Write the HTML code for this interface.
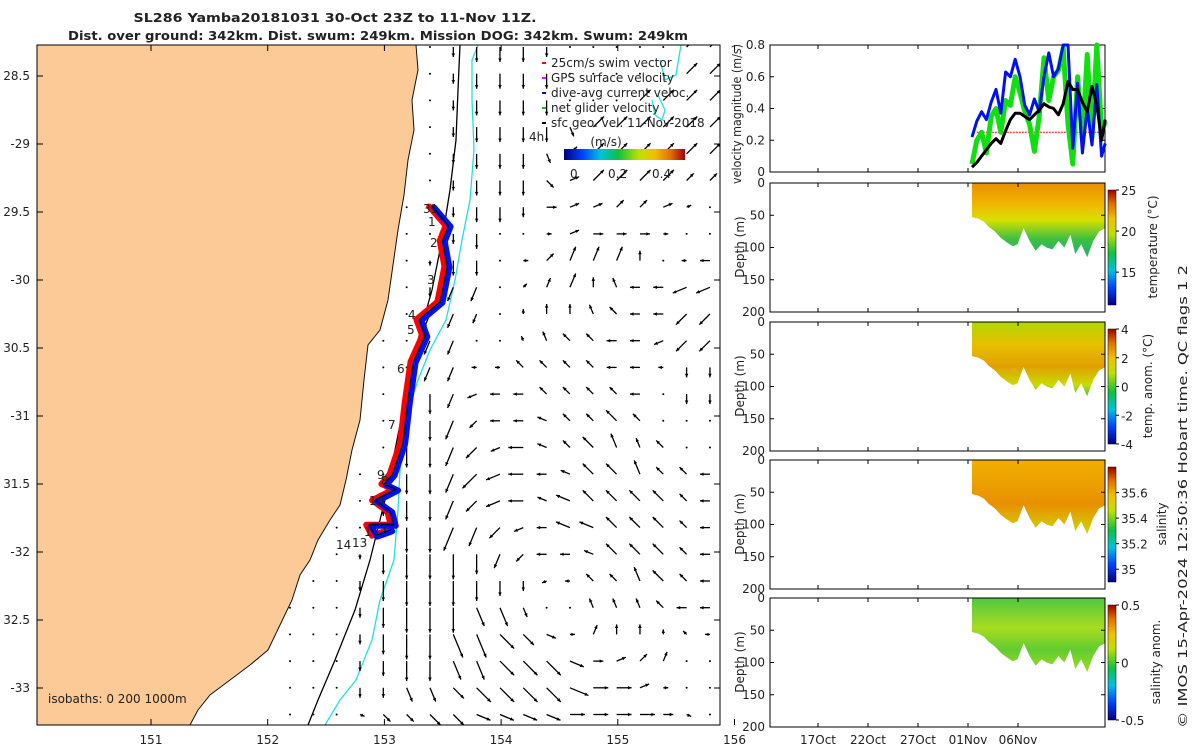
<!DOCTYPE html>
<html><head><meta charset="utf-8">
<style>
body{margin:0;background:#fff;width:1200px;height:750px;overflow:hidden;font-family:"Liberation Sans","DejaVu Sans",sans-serif}
svg text{font-family:"DejaVu Sans","Liberation Sans",sans-serif;font-size:12px;fill:#222}
</style></head><body>
<svg id="s" width="1200" height="750" viewBox="0 0 1200 750">
<defs>
<linearGradient id="jet" x1="0" y1="1" x2="0" y2="0">
<stop offset="0" stop-color="#000080"/><stop offset="0.15" stop-color="#0040ff"/><stop offset="0.3" stop-color="#00c0e0"/><stop offset="0.45" stop-color="#10c040"/><stop offset="0.62" stop-color="#c0e000"/><stop offset="0.75" stop-color="#f0c000"/><stop offset="0.88" stop-color="#e07000"/><stop offset="1" stop-color="#a00000"/></linearGradient>
<linearGradient id="jeth" x1="0" y1="0" x2="1" y2="0">
<stop offset="0" stop-color="#000080"/><stop offset="0.15" stop-color="#0040ff"/><stop offset="0.3" stop-color="#00c0e0"/><stop offset="0.45" stop-color="#10c040"/><stop offset="0.62" stop-color="#c0e000"/><stop offset="0.75" stop-color="#f0c000"/><stop offset="0.88" stop-color="#e07000"/><stop offset="1" stop-color="#a00000"/></linearGradient>
<linearGradient id="gT" x1="0" y1="0" x2="0" y2="1"><stop offset="0" stop-color="#e89000"/><stop offset="0.3" stop-color="#f0b800"/><stop offset="0.5" stop-color="#d8e000"/><stop offset="0.75" stop-color="#40c040"/><stop offset="1" stop-color="#20b070"/></linearGradient>
<linearGradient id="gA" x1="0" y1="0" x2="0" y2="1"><stop offset="0" stop-color="#b0d800"/><stop offset="0.3" stop-color="#e8c000"/><stop offset="0.6" stop-color="#e0a000"/><stop offset="0.85" stop-color="#c8dc00"/><stop offset="1" stop-color="#50c040"/></linearGradient>
<linearGradient id="gS" x1="0" y1="0" x2="0" y2="1"><stop offset="0" stop-color="#f0b000"/><stop offset="0.6" stop-color="#e89000"/><stop offset="1" stop-color="#d0d800"/></linearGradient>
<linearGradient id="gSA" x1="0" y1="0" x2="0" y2="1"><stop offset="0" stop-color="#50c840"/><stop offset="0.4" stop-color="#a8dc20"/><stop offset="0.7" stop-color="#60cc30"/><stop offset="1" stop-color="#a0dc20"/></linearGradient>
<clipPath id="mapclip"><rect x="37" y="45" width="683" height="680"/></clipPath>
</defs>
<g id="map" clip-path="url(#mapclip)">
<rect x="37" y="45" width="683" height="680" fill="#fff"/>
<path fill="#fbca97" stroke="#111" stroke-width="1" d="M37,45 L416,45 L418,70 L412,100 L414,130 L408,160 L404,195 L398,230 L393,265 L388,300 L380,330 L368,345 L364,380 L360,420 L352,450 L346,480 L340,505 L330,520 L318,540 L310,560 L300,575 L292,600 L280,625 L268,650 L250,665 L230,680 L210,695 L198,710 L190,725 L37,725 Z"/>
<path fill="none" stroke="#000" stroke-width="1.3" d="M460,45 L458,90 L456,140 L450,190 L442,240 L432,290 L418,340 L405,400 L395,450 L385,500 L370,560 L355,610 L335,660 L318,700 L308,725"/>
<path fill="none" stroke="#20e0e0" stroke-width="1.3" d="M478,45 L472,60 L472,100 L474,150 L470,200 L462,240 L455,280 L446,320 L430,350 L418,380 L408,410 L402,440 L400,470 L398,510 L394,560 L380,600 L372,640 L356,680 L340,700 L325,725"/>
<path fill="none" stroke="#20e0e0" stroke-width="1.3" d="M681,45 L676,75 L665,80 L660,60 M658,95 L665,110 L662,120 L655,115 L652,100"/>
<g id="arrows"></g>
<g fill="none" stroke-linejoin="round" stroke-linecap="round">
<path id="trk1" stroke="#f00" stroke-width="6"/>
<path id="trk2" stroke="#0010ff" stroke-width="6"/>
<path id="trk3" stroke="#000" stroke-width="1.2"/>
</g>
<g font-size="12">
<text x="423" y="213">31</text><text x="428" y="226">1</text><text x="430" y="247">2</text><text x="427" y="284">3</text><text x="408" y="319">4</text><text x="407" y="334">5</text><text x="397" y="373">6</text><text x="388" y="429">7</text><text x="377" y="479">9</text><text x="381" y="485">8</text><text x="369" y="505">10</text><text x="364" y="536">112</text><text x="352" y="547">13</text><text x="336" y="549">14</text>
</g>
<text x="48" y="703">isobaths: 0   200  1000m</text>
<g>
<line x1="542" y1="63" x2="546" y2="63" stroke="#f00" stroke-width="2"/><text x="551" y="67">25cm/s swim vector</text>
<line x1="542" y1="78" x2="546" y2="78" stroke="#f0f" stroke-width="2"/><text x="551" y="82">GPS surface velocity</text>
<line x1="542" y1="93" x2="546" y2="93" stroke="#00f" stroke-width="2"/><text x="551" y="97">dive-avg current veloc.</text>
<line x1="542" y1="108" x2="546" y2="108" stroke="#0c0" stroke-width="2"/><text x="551" y="112">net glider velocity</text>
<line x1="542" y1="123" x2="546" y2="123" stroke="#000" stroke-width="2"/><text x="551" y="127">sfc geo. vel. 11-Nov-2018</text>
</g>
<text x="529" y="141">4h</text>
<text x="606" y="146" text-anchor="middle" font-size="13">(m/s)</text>
<rect x="564" y="149" width="121" height="11" fill="url(#jeth)"/>
<text x="570" y="178">0</text><text x="608" y="178">0.2</text><text x="652" y="178">0.4</text>
</g>
<rect x="37" y="45" width="683" height="680" fill="none" stroke="#000"/>
<g id="mapticks"></g>
<text x="335" y="22" text-anchor="middle" font-weight="bold" font-size="13" textLength="403" lengthAdjust="spacingAndGlyphs">SL286 Yamba20181031 30-Oct 23Z to 11-Nov 11Z.</text>
<text x="378" y="40" text-anchor="middle" font-weight="bold" font-size="13" textLength="620" lengthAdjust="spacingAndGlyphs">Dist. over ground: 342km. Dist. swum: 249km. Mission DOG: 342km. Swum: 249km</text>
<g id="right"></g>
<text transform="translate(1187,728) rotate(-90)" font-size="13" textLength="463" lengthAdjust="spacingAndGlyphs">© IMOS 15-Apr-2024 12:50:36 Hobart time. QC flags 1  2</text>
</svg>
<script>
const NS='http://www.w3.org/2000/svg';
function mk(t,a,p){const e=document.createElementNS(NS,t);for(const k in a)e.setAttribute(k,a[k]);(p||document.getElementById('s')).appendChild(e);return e;}
// map axes
const lonTicks=[151,152,153,154,155,156];
const latTicks=[28.5,29,29.5,30,30.5,31,31.5,32,32.5,33];
const latLabels=['28.5','-29','29.5','-30','30.5','-31','31.5','-32','32.5','-33'];
function lonX(l){return 151+(l-151)*116.7;}
function latY(l){return 76+(l-28.5)*136;}
const mt=document.getElementById('mapticks');
lonTicks.forEach(l=>{const x=lonX(l);mk('line',{x1:x,y1:725,x2:x,y2:719,stroke:'#000'},mt);mk('line',{x1:x,y1:45,x2:x,y2:51,stroke:'#000'},mt);const t=mk('text',{x:x,y:744,'text-anchor':'middle'},mt);t.textContent=l;});
latTicks.forEach((l,i)=>{const y=latY(l);mk('line',{x1:37,y1:y,x2:43,y2:y,stroke:'#000'},mt);mk('line',{x1:720,y1:y,x2:714,y2:y,stroke:'#000'},mt);const t=mk('text',{x:30,y:y+4,'text-anchor':'end'},mt);t.textContent=latLabels[i];});
// surface geostrophic velocity field: compass direction + length (x10 px)
const fieldRows=[
"- - - - - - . S1 S1.5 S1.5 S1.5 S1 . . . . . NE1 NE1",
"- - - - - - . S1 S1.5 S1.5 S1.5 S1.5 . . . . . NE1.5 NE1.5",
"- - - - - - . S1 S1.5 S1.5 S1.5 S1.5 . . . NE1.5 NE1.5 NE1.5 NE1.5",
"- - - - - - . S1 S1.5 S1.5 S1.5 S1.5 SSE1 NE1.5 NE1.5 NE1.5 NE1.5 NE1.5 NE1.5",
"- - - - - - . S1 S1.5 S1.5 S1.5 SSE1 NE1 NE1.5 NE1.5 NE1.5 NE1.5 NE1.5 NE1.5",
"- - - - - - . S1 S1.5 S1.5 S1.5 SE1 ENE1 NE1.5 NE1.5 NE1.5 NE1.5 NE1 NE1",
"- - - - - . . S1 S1.5 S1.5 S1 E1 ENE1 ENE1 NE1 NE1 ENE1 ENE0.5 .",
"- - - - - . . S1 S1.5 . . E0.5 ENE1 E1 E1 E1 E0.5 . .",
"- - - - - . S0.5 S1.5 S1.5 . E0.5 NE1 NNE1.5 NNE1.5 NNE1.5 N1 . W0.5 W1",
"- - - - - . S1 SSW1.5 SSW1.5 . NE0.5 NNE1 NNE1.5 N1 NNW1 W1 W1 WSW1.5 WSW1.5",
"- - - - - . SSW1.5 SSW1.5 SSW1 . N0.5 N1 N1 NNW1 NW1 W1 W1 SW1.5 SW1.5",
"- - - - . . SSW1.5 SSW1.5 . . NNW0.5 NNW1 NW1 NW1 W1 W1 WSW1 SW1.5 SW1.5",
"- - - - . . SSW1.5 SSW1.5 W0.5 W0.5 NW1 NW1 NW1 NW1 W1 W1 W0.5 S1 S1",
"- - - - . . S2 SSW1.5 WSW1 W1 W1 NW1 NW1 NW1 NW1 W1 . S1 S1",
"- - - - . S2 S2 SSW2 SW1 W1 W1 WNW1 NW1 NW1 NW1.5 NW1 . . .",
"- - - - . S2 S2 SSW2 SW1.5 WSW1 W1.5 WNW1 NW1 NW1.5 NNW1.5 NNW1 NW1 . .",
"- - - . . S2 S2 SSW2 SW2 WSW1.5 W1.5 W1 WNW1 NW1.5 NW1.5 NNW1.5 NW1 NW1 W1",
"- - - . S1.5 S2 S2 SSW2 SW1.5 WSW1.5 W1.5 WNW1 WNW1.5 NW1.5 NW1.5 NW1.5 NW1.5 NW1 W1",
"- - . . S1 S2.5 S2.5 SSW2.5 SSW2 SW1.5 WSW1 W1 WNW1.5 WNW1.5 NW1.5 NW1.5 NW1.5 NW1 W1",
"- - . S0.5 S2 S2.5 S2.5 S2.5 S2 SSW1.5 SW1 W1 W1 WNW1 NW1.5 NW1.5 NW1.5 NW1 W1",
"- . . S1 S2 S2.5 S2.5 S2.5 S2 S1.5 S1 WSW0.5 W0.5 NW1 NW1 NNW1.5 NW1.5 NW1 W1",
". . . S1 S2 S2.5 S2.5 S2.5 SSE2 SSE2 SSE1 . . NNW1 NNW1 NNW1 NW1 W1 W1",
". . . S1 S2 S2.5 S2.5 SSE2.5 SSE2.5 SE2 SE1.5 ESE1 E0.5 NNE1 N1 N1 N0.5 NW0.5 W0.5",
". . . S1 S1.5 S2 S2 SSE2 SSE2 SE2 SE2 SE2 ESE1.5 E1 ENE1 NE1 NNE1 . .",
". . . S1 S1 SSE1.5 SSE1.5 SE1.5 SE2 SE2 SE2 SE2 ESE2 E1.5 E1.5 ENE1 E0.5 . .",
". . . ESE0.5 SE1 SE1 SE1.5 SE1.5 ESE1.5 ESE1.5 ESE1.5 ESE1.5 E1.5 E1.5 E1.5 E1.5 E1 ESE0.5 ."];
const compass=['E','ESE','SE','SSE','S','SSW','SW','WSW','W','WNW','NW','NNW','N','NNE','NE','ENE'];
const ag=document.getElementById('arrows');
fieldRows.forEach((row,i)=>{row.split(' ').forEach((c,j)=>{
 const x=290+23.33*j,y=47+26.7*i;
 if(c==='-')return;
 if(c==='.'){const d=mk('circle',{cx:x,cy:y,r:1,fill:'#000'},ag);return;}
 const m=c.match(/^([A-Z]+)([\d.]+)$/);
 const a=compass.indexOf(m[1])*22.5*Math.PI/180,L=parseFloat(m[2])*10;
 const x2=x+L*Math.cos(a),y2=y+L*Math.sin(a);
 const g=mk('g',{},ag);
 
 
 mk('line',{x1:x,y1:y,x2:x2,y2:y2,stroke:'#000','stroke-width':1.3},g);
 const h=4,b1=a+2.7,b2=a-2.7;
 mk('path',{d:`M${x2},${y2} L${x2+h*Math.cos(b1)},${y2+h*Math.sin(b1)} L${x2+h*Math.cos(b2)},${y2+h*Math.sin(b2)}Z`,fill:'#000'},g);
});});
// glider track
const trackLon=[153.41,153.55,153.5,153.54,153.48,153.3,153.35,153.25,153.2,153.16,153.07,153.0,153.1,152.92,153.05,153.08,152.87,152.92,153.05];
const trackLat=[29.46,29.6,29.71,29.9,30.16,30.29,30.41,30.6,30.9,31.2,31.43,31.5,31.54,31.62,31.7,31.8,31.8,31.88,31.84];
const td=trackLon.map((l,i)=>(i?'L':'M')+lonX(l)+','+latY(trackLat[i])).join(' ');
['trk1','trk2','trk3'].forEach((id,k)=>{const e=document.getElementById(id);e.setAttribute('d',td);if(k==0)e.setAttribute('transform','translate(-3,0)');if(k==1)e.setAttribute('transform','translate(2,1)');});
// right panels
const R=document.getElementById('right');
const PX0=770,PX1=1105;
function tickX(d){return 818+10*d;} // date tick positions, days since 17 Oct
function dX(d){return 972+(d-15.4)*12;} // data positions
const dateTicks=[0,5,10,15,20];const dateLabels=['17Oct','22Oct','27Oct','01Nov','06Nov'];
function frame(y0,y1,name){const r=mk('rect',{x:PX0,y:y0,width:PX1-PX0,height:y1-y0,fill:'none',stroke:'#000'},R);
 dateTicks.forEach(d=>{const x=tickX(d);mk('line',{x1:x,y1:y1,x2:x,y2:y1-4,stroke:'#000'},R);mk('line',{x1:x,y1:y0,x2:x,y2:y0+4,stroke:'#000'},R);});}
const velDays=[15.4,15.8,16.2,16.6,17.0,17.4,17.8,18.2,18.6,19.0,19.4,19.8,20.2,20.6,21.0,21.4,21.8,22.2,22.6,23.0,23.4,23.8,24.2,24.6,25.0,25.4,25.8,26.2,26.5];
const velGeo=[0.03,0.06,0.1,0.14,0.18,0.21,0.18,0.26,0.33,0.37,0.37,0.35,0.33,0.36,0.39,0.43,0.41,0.4,0.36,0.43,0.57,0.52,0.52,0.44,0.38,0.54,0.42,0.2,0.33];
const velDive=[0.22,0.32,0.38,0.33,0.44,0.52,0.37,0.63,0.6,0.71,0.6,0.42,0.36,0.46,0.38,0.6,0.75,0.6,0.65,0.8,0.8,0.15,0.56,0.12,0.4,0.17,0.55,0.1,0.18];
const velNet=[0.05,0.2,0.25,0.12,0.35,0.4,0.25,0.45,0.42,0.6,0.5,0.38,0.3,0.13,0.35,0.72,0.45,0.6,0.64,0.78,0.3,0.05,0.6,0.2,0.74,0.22,0.8,0.25,0.32];
const velTicks=[0,0.2,0.4,0.6,0.8];
function vy(v){return 172-v*158.75;}
frame(45,172,'velocity-panel');
velTicks.forEach(v=>{const y=vy(v);mk('line',{x1:PX0,y1:y,x2:PX0+4,y2:y,stroke:'#000'},R);mk('line',{x1:PX1,y1:y,x2:PX1-4,y2:y,stroke:'#000'},R);const t=mk('text',{x:765,y:y+4,'text-anchor':'end','font-size':11},R);t.textContent=v;});
const vt=mk('text',{transform:'translate(741,114) rotate(-90)','text-anchor':'middle','font-size':11,textLength:140,lengthAdjust:'spacingAndGlyphs'},R);vt.textContent='velocity magnitude (m/s)';

const sw=mk('line',{x1:dX(15.8),y1:vy(0.25),x2:dX(26.5),y2:vy(0.25),stroke:'#f44','stroke-width':1.5,'stroke-dasharray':'2 1'},R);

function pl(arr,col,w,name){const p=mk('polyline',{points:velDays.map((d,i)=>dX(d)+','+Math.max(45,vy(arr[i]))).join(' '),fill:'none',stroke:col,'stroke-width':w,'stroke-linejoin':'round'},R);}
pl(velNet,'#10e010',5,'net-glider-velocity-line');
pl(velDive,'#0010f0',3,'dive-avg-velocity-line');
pl(velGeo,'#000',3,'geostrophic-velocity-line');
// section panels
const depthTicks=[0,50,100,150,200];
const secDays=[15.4,15.9,16.4,16.8,17.3,17.8,18.3,18.8,19.2,19.7,20.2,20.7,21.2,21.6,22.1,22.6,23.1,23.6,24.0,24.5,25.0,25.5,26.0,26.5];
const bottomDepth=[53,55,60,68,75,85,92,98,95,70,90,105,95,100,103,90,100,80,110,95,115,90,75,70];
const panels=[
 {y0:183,grad:'gT',cb:[25,20,15],cbv:[25,20,15],cbmin:11,cbmax:25,label:'temperature (°C)',lx:1157,name:'temperature'},
 {y0:322,grad:'gA',cb:[4,2,0,-2,-4],cbv:[4,2,0,-2,-4],cbmin:-4,cbmax:4,label:'temp. anom. (°C)',lx:1152,name:'temp-anomaly'},
 {y0:460,grad:'gS',cb:['35.6','35.4','35.2','35'],cbv:[35.6,35.4,35.2,35],cbmin:34.9,cbmax:35.8,label:'salinity',lx:1166,name:'salinity'},
 {y0:598,grad:'gSA',cb:['0.5','0','-0.5'],cbv:[0.5,0,-0.5],cbmin:-0.5,cbmax:0.5,label:'salinity anom.',lx:1160,name:'salinity-anomaly'}];
panels.forEach((p,k)=>{
 const y0=p.y0,y1=y0+129,dy=d=>y0+d*129/200;
 const poly=mk('path',{d:'M'+dX(secDays[0])+','+dy(0)+' '+secDays.map((d,i)=>'L'+dX(d)+','+dy(bottomDepth[i])).join(' ')+' L'+dX(secDays[secDays.length-1])+','+dy(0)+'Z',fill:'url(#'+p.grad+')'},R);
 
 frame(y0,y1,p.name+'-panel');
 depthTicks.forEach(d=>{const y=dy(d);mk('line',{x1:PX0,y1:y,x2:PX0+4,y2:y,stroke:'#000'},R);mk('line',{x1:PX1,y1:y,x2:PX1-4,y2:y,stroke:'#000'},R);const t=mk('text',{x:765,y:y+4,'text-anchor':'end','font-size':11},R);t.textContent=d;});
 const yt=mk('text',{transform:`translate(744,${y0+64}) rotate(-90)`,'text-anchor':'middle','font-size':11.5},R);yt.textContent='Depth (m)';
 
 const cy0=y0+7,cy1=y1-7;
 const cb=mk('rect',{x:1108,y:cy0,width:8,height:cy1-cy0,fill:'url(#jet)',stroke:'#000','stroke-width':0.5},R);
 
 p.cbv.forEach((v,i)=>{const y=cy1-(v-p.cbmin)/(p.cbmax-p.cbmin)*(cy1-cy0);mk('line',{x1:1116,y1:y,x2:1119,y2:y,stroke:'#000'},R);const t=mk('text',{x:1121,y:y+5,'font-size':13},R);t.textContent=p.cb[i];});
 const lt=mk('text',{transform:`translate(${p.lx},${y0+64}) rotate(-90)`,'text-anchor':'middle','font-size':14.5},R);lt.textContent=p.label;
 
 if(k===3)dateTicks.forEach((d,i)=>{const t=mk('text',{x:tickX(d),y:744,'text-anchor':'middle','font-size':11},R);t.textContent=dateLabels[i];});
});
</script>
</body></html>
